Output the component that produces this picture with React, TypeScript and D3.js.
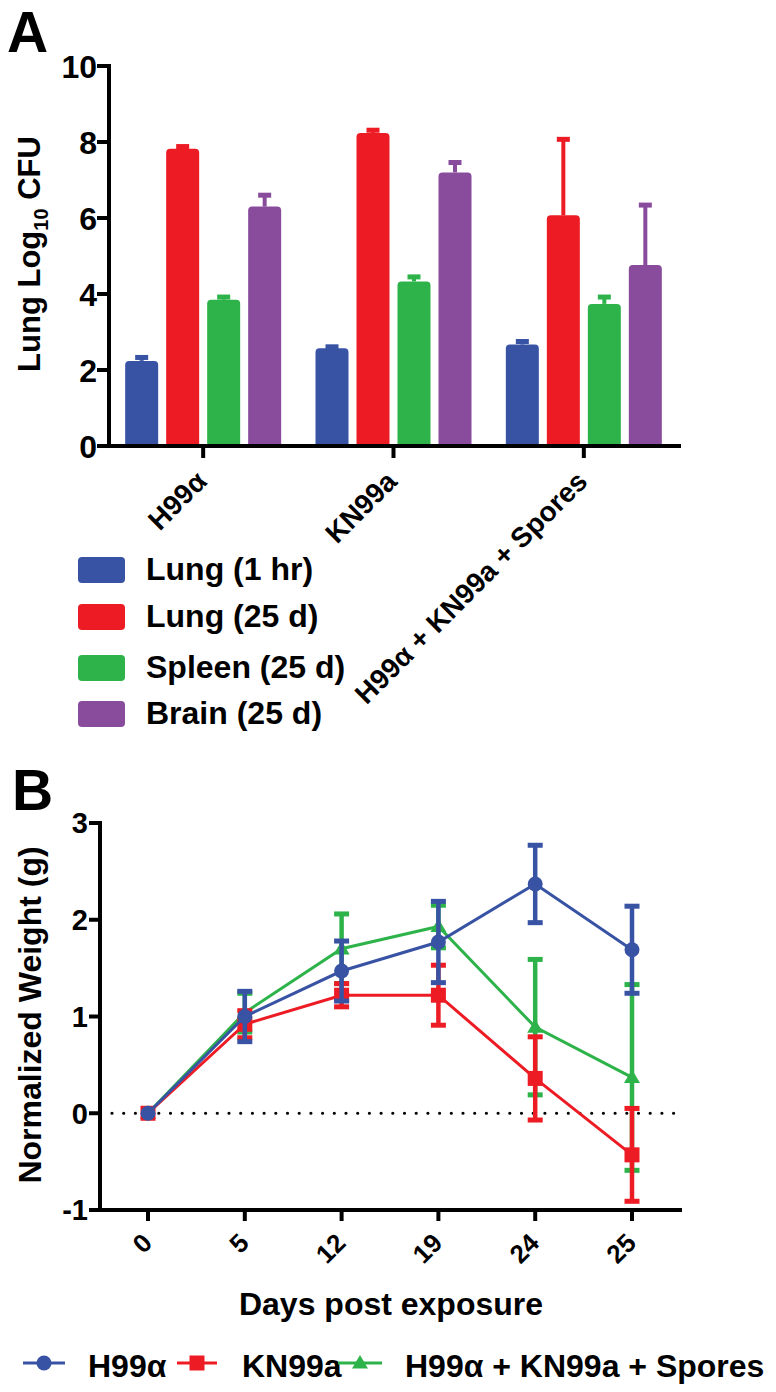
import React from "react";
import * as d3 from "d3";

// ---------- Panel A data ----------
const groups = ["H99α", "KN99a", "H99α + KN99a + Spores"];
const seriesA = ["Lung (1 hr)", "Lung (25 d)", "Spleen (25 d)", "Brain (25 d)"];
const lung1hr = [2.24, 2.57, 2.67];
const lung1hrErr = [0.09, 0.04, 0.08];
const lung25d = [7.82, 8.24, 6.07];
const lung25dErr = [0.06, 0.07, 2.0];
const spleen25d = [3.85, 4.33, 3.74];
const spleen25dErr = [0.07, 0.12, 0.18];
const brain25d = [6.3, 7.2, 4.76];
const brain25dErr = [0.3, 0.26, 1.58];
const yTicksA = [0, 2, 4, 6, 8, 10];

// ---------- Panel B data ----------
const days = ["0", "5", "12", "19", "24", "25"];
const seriesB = ["H99α", "KN99a", "H99α + KN99a + Spores"];
const h99Mean = [0, 1.0, 1.47, 1.77, 2.37, 1.69];
const h99Err = [0, 0.26, 0.31, 0.42, 0.4, 0.45];
const kn99Mean = [0, 0.92, 1.22, 1.22, 0.36, -0.43];
const kn99Err = [0, 0.14, 0.12, 0.31, 0.43, 0.48];
const mixMean = [0, 1.04, 1.7, 1.93, 0.89, 0.37];
const mixErr = [0, 0.2, 0.36, 0.22, 0.7, 0.96];
const yTicksB = [-1, 0, 1, 2, 3];

const BLUE = "#3953A4";
const RED = "#ED1C24";
const GREEN = "#2DB34A";
const PURPLE = "#894C9C";
const FONT = "'Liberation Sans', Arial, Helvetica, sans-serif";

function roundTopBar(x: number, y: number, w: number, h: number, r: number) {
  const rr = Math.min(r, h);
  return `M${x},${y + h} L${x},${y + rr} Q${x},${y} ${x + rr},${y} L${x + w - rr},${y} Q${x + w},${y} ${x + w},${y + rr} L${x + w},${y + h} Z`;
}

function PanelA() {
  const x0 = d3.scaleBand<string>().domain(groups).range([108, 679]).padding(0);
  const x1 = d3.scaleBand<string>().domain(seriesA).range([0, 156]).paddingInner(0.195).paddingOuter(0);
  const y = d3.scaleLinear().domain([0, 10]).range([446, 66]);
  const values = [lung1hr, lung25d, spleen25d, brain25d];
  const errs = [lung1hrErr, lung25dErr, spleen25dErr, brain25dErr];
  const colors = [BLUE, RED, GREEN, PURPLE];
  const bw = x1.bandwidth();

  return (
    <g fontFamily={FONT} fontWeight="bold">
      <text x={7} y={52} fontSize={57}>A</text>
      {groups.map((g, gi) => {
        const gc = (x0(g) as number) + x0.bandwidth() / 2;
        return seriesA.map((s, si) => {
          const bx = gc - 78 + (x1(s) as number);
          const v = values[si][gi];
          const e = errs[si][gi];
          const cx = bx + bw / 2;
          return (
            <g key={g + s}>
              <line x1={cx} x2={cx} y1={y(v)} y2={y(v + e)} stroke={colors[si]} strokeWidth={4} />
              <rect x={cx - 6.5} y={y(v + e) - 2.5} width={13} height={5} fill={colors[si]} />
              <path d={roundTopBar(bx, y(v), bw, y(0) - y(v), 4)} fill={colors[si]} />
            </g>
          );
        });
      })}
      <line x1={109} x2={109} y1={64} y2={448} stroke="#000" strokeWidth={4} />
      {yTicksA.map((t) => (
        <g key={t}>
          <line x1={97} x2={109} y1={y(t)} y2={y(t)} stroke="#000" strokeWidth={4} />
          <text x={97} y={y(t)} dy="0.36em" textAnchor="end" fontSize={32}>{t}</text>
        </g>
      ))}
      <line x1={98} x2={681} y1={446} y2={446} stroke="#000" strokeWidth={4} />
      {groups.map((g) => {
        const gc = (x0(g) as number) + x0.bandwidth() / 2;
        return (
          <g key={g}>
            <line x1={gc} x2={gc} y1={446} y2={458} stroke="#000" strokeWidth={4} />
            <text transform={`translate(${gc - 2},${476}) rotate(-45)`} textAnchor="end" dy="0.36em" fontSize={28}>{g}</text>
          </g>
        );
      })}
      <text transform="translate(40,254) rotate(-90)" textAnchor="middle" fontSize={31}>
        Lung Log<tspan fontSize={20} dy={8}>10</tspan><tspan dy={-8}> CFU</tspan>
      </text>
      {seriesA.map((s, i) => {
        const ys = [570, 617, 668, 714][i];
        return (
          <g key={s}>
            <rect x={78} y={ys - 13} width={47} height={26} rx={4} fill={colors[i]} />
            <text x={146} y={ys + 10} fontSize={32}>{s}</text>
          </g>
        );
      })}
    </g>
  );
}

function Marker({ kind, x, y, color }: { kind: string; x: number; y: number; color: string }) {
  if (kind === "circle") return <circle cx={x} cy={y} r={7.5} fill={color} />;
  if (kind === "square") return <rect x={x - 7.5} y={y - 7.5} width={15} height={15} fill={color} />;
  const s = 8;
  return <path d={`M${x},${y - s} L${x + s},${y + s * 0.7} L${x - s},${y + s * 0.7} Z`} fill={color} />;
}

function PanelB() {
  const x = d3.scalePoint<string>().domain(days).range([148, 632]);
  const y = d3.scaleLinear().domain([-1, 3]).range([1210, 823]);
  const series = [
    { name: seriesB[2], mean: mixMean, err: mixErr, color: GREEN, kind: "triangle" },
    { name: seriesB[1], mean: kn99Mean, err: kn99Err, color: RED, kind: "square" },
    { name: seriesB[0], mean: h99Mean, err: h99Err, color: BLUE, kind: "circle" },
  ];
  const line = d3
    .line<number>()
    .x((_, i) => x(days[i]) as number)
    .y((d) => y(d));

  return (
    <g fontFamily={FONT} fontWeight="bold">
      <text x={12} y={810} fontSize={57}>B</text>
      <line x1={112} x2={681} y1={y(0)} y2={y(0)} stroke="#000" strokeWidth={3.2} strokeDasharray="0 11.7" strokeLinecap="round" />
      {series.map((s) => (
        <g key={s.name}>
          {s.mean.map((m, i) => {
            const e = s.err[i];
            if (e === 0) return null;
            const cx = x(days[i]) as number;
            return (
              <g key={i}>
                <line x1={cx} x2={cx} y1={y(m + e)} y2={y(m - e)} stroke={s.color} strokeWidth={4.5} />
                <rect x={cx - 7.5} y={y(m + e) - 2.5} width={15} height={5} fill={s.color} />
                <rect x={cx - 7.5} y={y(m - e) - 2.5} width={15} height={5} fill={s.color} />
              </g>
            );
          })}
          <path d={line(s.mean) as string} fill="none" stroke={s.color} strokeWidth={3} />
          {s.mean.map((m, i) => (
            <Marker key={i} kind={s.kind} x={x(days[i]) as number} y={y(m)} color={s.color} />
          ))}
        </g>
      ))}
      <line x1={100} x2={100} y1={821} y2={1212} stroke="#000" strokeWidth={4} />
      {yTicksB.map((t) => (
        <g key={t}>
          <line x1={89} x2={100} y1={y(t)} y2={y(t)} stroke="#000" strokeWidth={4} />
          <text x={88} y={y(t)} dy="0.36em" textAnchor="end" fontSize={29}>{t}</text>
        </g>
      ))}
      <line x1={97} x2={682} y1={1210} y2={1210} stroke="#000" strokeWidth={4} />
      {days.map((d) => {
        const cx = x(d) as number;
        return (
          <g key={d}>
            <line x1={cx} x2={cx} y1={1210} y2={1221} stroke="#000" strokeWidth={4} />
            <text transform={`translate(${cx - 1},${1238}) rotate(-45)`} textAnchor="end" dy="0.36em" fontSize={26}>{d}</text>
          </g>
        );
      })}
      <text x={391} y={1315} textAnchor="middle" fontSize={32}>Days post exposure</text>
      <text transform="translate(41,1015) rotate(-90)" textAnchor="middle" fontSize={32}>Normalized Weight (g)</text>
      {[
        { x0: 23, x1: 65, tx: 88, color: BLUE, kind: "circle", label: seriesB[0] },
        { x0: 177, x1: 217, tx: 242, color: RED, kind: "square", label: seriesB[1] },
        { x0: 338, x1: 382, tx: 405, color: GREEN, kind: "triangle", label: seriesB[2] },
      ].map((l) => (
        <g key={l.label}>
          <line x1={l.x0} x2={l.x1} y1={1363} y2={1363} stroke={l.color} strokeWidth={3} />
          <Marker kind={l.kind} x={(l.x0 + l.x1) / 2} y={1363} color={l.color} />
          <text x={l.tx} y={1377} fontSize={32}>{l.label}</text>
        </g>
      ))}
    </g>
  );
}

export default function App() {
  return (
    <svg
      width={776}
      height={1392}
      viewBox="0 0 776 1392"
      style={{ position: "absolute", left: 0, top: 0, background: "#fff" }}
    >
      <rect x={0} y={0} width={776} height={1392} fill="#fff" />
      <PanelA />
      <PanelB />
    </svg>
  );
}
